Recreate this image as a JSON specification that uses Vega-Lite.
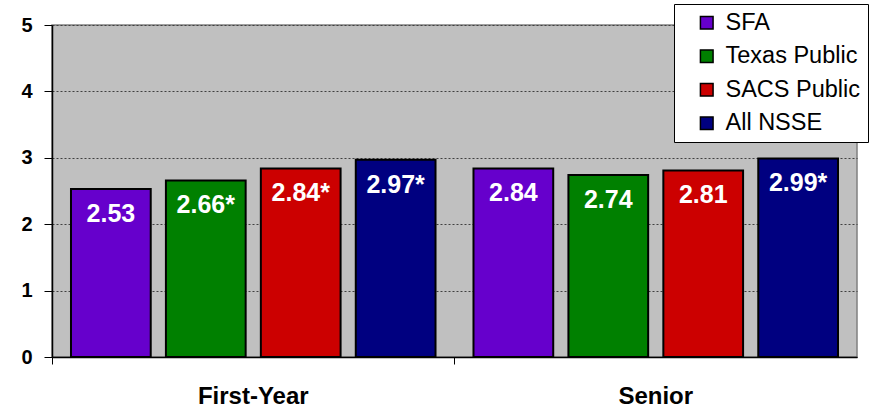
{
  "$schema": "https://vega.github.io/schema/vega-lite/v6.json",
  "width": 805,
  "height": 332,
  "autosize": {"type": "none"},
  "padding": {"left": 52, "top": 25, "right": 21, "bottom": 55},
  "background": "white",
  "config": {
    "font": "Liberation Sans",
    "view": {"fill": "#C0C0C0", "stroke": "#808080", "strokeWidth": 1.5}
  },
  "data": {
    "values": [
      {"group": "First-Year", "series": "SFA", "value": 2.53, "label": "2.53"},
      {"group": "First-Year", "series": "Texas Public", "value": 2.66, "label": "2.66*"},
      {"group": "First-Year", "series": "SACS Public", "value": 2.84, "label": "2.84*"},
      {"group": "First-Year", "series": "All NSSE", "value": 2.97, "label": "2.97*"},
      {"group": "Senior", "series": "SFA", "value": 2.84, "label": "2.84"},
      {"group": "Senior", "series": "Texas Public", "value": 2.74, "label": "2.74"},
      {"group": "Senior", "series": "SACS Public", "value": 2.81, "label": "2.81"},
      {"group": "Senior", "series": "All NSSE", "value": 2.99, "label": "2.99*"}
    ]
  },
  "encoding": {
    "x": {
      "field": "group",
      "type": "nominal",
      "sort": ["First-Year", "Senior"],
      "scale": {"paddingInner": 0, "paddingOuter": 0},
      "axis": {
        "title": null,
        "labelAngle": 0,
        "labelFontSize": 24,
        "labelFontWeight": "bold",
        "labelColor": "black",
        "labelPadding": 20,
        "bandPosition": 0,
        "tickSize": 7,
        "tickColor": "black",
        "domainColor": "black",
        "domainWidth": 1.5,
        "grid": false
      }
    },
    "xOffset": {
      "field": "series",
      "type": "nominal",
      "sort": ["SFA", "Texas Public", "SACS Public", "All NSSE"],
      "scale": {"paddingInner": 0.16, "paddingOuter": 0.2}
    },
    "y": {
      "field": "value",
      "type": "quantitative",
      "scale": {"domain": [0, 5]},
      "axis": {
        "title": null,
        "values": [0, 1, 2, 3, 4, 5],
        "labelFontSize": 20,
        "labelFontWeight": "bold",
        "labelColor": "black",
        "labelPadding": 12,
        "tickSize": 8,
        "tickColor": "black",
        "domainColor": "black",
        "domainWidth": 1.5,
        "gridColor": "#404040",
        "gridDash": [2, 2],
        "gridWidth": 1
      }
    }
  },
  "layer": [
    {
      "mark": {"type": "bar", "stroke": "black", "strokeWidth": 2},
      "encoding": {
        "color": {
          "field": "series",
          "type": "nominal",
          "sort": ["SFA", "Texas Public", "SACS Public", "All NSSE"],
          "scale": {
            "domain": ["SFA", "Texas Public", "SACS Public", "All NSSE"],
            "range": ["#6600CC", "#008000", "#CC0000", "#000080"]
          },
          "legend": {
            "title": null,
            "orient": "none",
            "legendX": 622,
            "legendY": -21,
            "fillColor": "white",
            "strokeColor": "black",
            "padding": 7,
            "symbolOffset": 14,
            "symbolType": "square",
            "symbolSize": 160,
            "symbolStrokeColor": "black",
            "symbolStrokeWidth": 1.5,
            "labelFontSize": 23.5,
            "labelColor": "black",
            "labelOffset": 7,
            "rowPadding": 8.5,
            "labelLimit": 250,
            "labelExpr": "datum.label + '\u00a0\u00a0\u00a0\u00a0'"
          }
        }
      }
    },
    {
      "mark": {
        "type": "text",
        "color": "white",
        "fontSize": 25,
        "fontWeight": "bold",
        "baseline": "top",
        "dy": 13
      },
      "encoding": {"text": {"field": "label"}}
    }
  ]
}
